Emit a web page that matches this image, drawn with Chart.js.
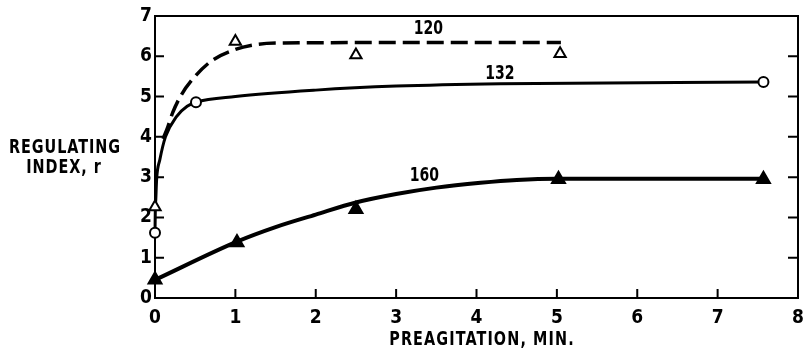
<!DOCTYPE html>
<html>
<head>
<meta charset="utf-8">
<script src="https://cdn.jsdelivr.net/npm/chart.js@4/dist/chart.umd.min.js"></script>
<style>
  html, body { margin: 0; padding: 0; background: #fff; }
  #wrap { width: 804px; height: 352px; }
</style>
</head>
<body>
<div id="wrap"><canvas id="c" width="804" height="352"></canvas></div>
<script>
// ---- data ----
const xTicks = [0, 1, 2, 3, 4, 5, 6, 7, 8];
const yTicks = [0, 1, 2, 3, 4, 5, 6, 7];

// measured points
const s120X = [0, 1, 2.5, 5.04];
const s120Y = [2.26, 6.37, 6.03, 6.06];
const s132X = [0, 0.51, 7.57];
const s132Y = [1.62, 4.86, 5.36];
const s160X = [0, 1.02, 2.5, 5.02, 7.57];
const s160Y = [0.45, 1.38, 2.2, 2.95, 2.95];

// hand-drawn fitted curves
const curve120X = [0.1, 0.16, 0.22, 0.33, 0.48, 0.7, 1.0, 1.25, 1.6, 3, 5.05];
const curve120Y = [3.95, 4.25, 4.6, 5.05, 5.46, 5.88, 6.17, 6.29, 6.33, 6.34, 6.34];
const curve132X = [0, 0.004, 0.01, 0.02, 0.06, 0.13, 0.27, 0.4, 0.51, 1, 2, 3, 4.3, 7.57];
const curve132Y = [1.62, 2.2, 2.45, 2.94, 3.43, 4.0, 4.51, 4.76, 4.86, 5.0, 5.16, 5.26, 5.32, 5.36];
const curve160X = [0, 1.02, 1.5, 2.0, 2.5, 3.0, 3.5, 4.05, 4.5, 5.0, 7.57];
const curve160Y = [0.45, 1.4, 1.76, 2.07, 2.37, 2.58, 2.74, 2.86, 2.93, 2.96, 2.96];

const seriesNames = ['120', '132', '160'];
const xTitle = 'PREAGITATION, MIN.';
const yTitleLines = ['REGULATING', 'INDEX, r'];

// ---- build ----
const pts = (xs, ys) => xs.map((x, i) => ({ x: x, y: ys[i] }));
const FONT = '"DejaVu Sans Condensed", "DejaVu Sans", sans-serif';

const curveBase = {
  type: 'line', pointRadius: 0, borderColor: '#000', fill: false,
  cubicInterpolationMode: 'monotone', clip: false, order: 2
};
const markBase = {
  type: 'line', showLine: false, borderColor: '#000', clip: false, order: 1,
  pointBorderWidth: 2, pointHoverRadius: 0
};

function squeezedText(ctx, text, cx, cy, sx, spacing) {
  ctx.save();
  ctx.translate(cx, cy);
  ctx.scale(sx, 1);
  ctx.letterSpacing = spacing + 'px';
  ctx.fillText(text, 0, 0);
  ctx.restore();
}

const deco = {
  id: 'deco',
  beforeDatasetsDraw(chart) {
    const { ctx, chartArea: a, scales } = chart;
    ctx.save();
    ctx.strokeStyle = '#000';
    ctx.lineWidth = 2;
    ctx.strokeRect(a.left, a.top, a.right - a.left, a.bottom - a.top);
    ctx.beginPath();
    xTicks.forEach(v => {
      const px = scales.x.getPixelForValue(v);
      if (v > 0 && v < 8) { ctx.moveTo(px, a.bottom); ctx.lineTo(px, a.bottom - 9); }
    });
    yTicks.forEach(v => {
      const py = scales.y.getPixelForValue(v);
      if (v > 0 && v < 7) {
        ctx.moveTo(a.left, py); ctx.lineTo(a.left + 9, py);
        ctx.moveTo(a.right, py); ctx.lineTo(a.right - 10, py);
      }
    });
    ctx.stroke();
    ctx.restore();
  },
  afterDraw(chart) {
    const { ctx, scales } = chart;
    ctx.save();
    ctx.fillStyle = '#000';
    ctx.textAlign = 'center';
    ctx.textBaseline = 'middle';
    ctx.font = 'bold 19px ' + FONT;
    const anchors = [[3.40, 6.67], [4.29, 5.55], [3.35, 3.02]];
    seriesNames.forEach((n, i) => {
      squeezedText(ctx, n, scales.x.getPixelForValue(anchors[i][0]), scales.y.getPixelForValue(anchors[i][1]), 0.82, 0);
    });
    ctx.font = 'bold 20px ' + FONT;
    squeezedText(ctx, yTitleLines[0], 65, 148, 0.8, 1.2);
    squeezedText(ctx, yTitleLines[1], 64, 168, 0.8, 1.2);
    squeezedText(ctx, xTitle, 482, 340, 0.8, 1.4);
    ctx.restore();
  }
};

new Chart(document.getElementById('c'), {
  type: 'line',
  data: {
    datasets: [
      Object.assign({}, curveBase, { label: '120 curve', data: pts(curve120X, curve120Y), borderWidth: 3.5, borderDash: [17, 7] }),
      Object.assign({}, curveBase, { label: '132 curve', data: pts(curve132X, curve132Y), borderWidth: 3 }),
      Object.assign({}, curveBase, { label: '160 curve', data: pts(curve160X, curve160Y), borderWidth: 4 }),
      Object.assign({}, markBase, { label: '120', data: pts(s120X, s120Y), pointStyle: 'triangle', pointRadius: 6.5, pointBackgroundColor: '#fff' }),
      Object.assign({}, markBase, { label: '132', data: pts(s132X, s132Y), pointStyle: 'circle', pointRadius: 5, pointBackgroundColor: '#fff' }),
      Object.assign({}, markBase, { label: '160', data: pts(s160X, s160Y), pointStyle: 'triangle', pointRadius: 7.5, pointBackgroundColor: '#000' })
    ]
  },
  options: {
    responsive: false,
    devicePixelRatio: 1,
    animation: false,
    events: [],
    layout: { autoPadding: false, padding: { top: 16, right: 6, left: 0, bottom: 0 } },
    plugins: { legend: { display: false }, tooltip: { enabled: false }, title: { display: false } },
    scales: {
      x: {
        type: 'linear', min: 0, max: 8,
        grid: { display: false, drawTicks: false },
        border: { display: false },
        ticks: { stepSize: 1, color: '#000', padding: 9, font: { family: FONT, size: 19, weight: 'bold' } },
        afterFit: s => { s.height = 54; s.paddingLeft = 0; s.paddingRight = 0; }
      },
      y: {
        type: 'linear', min: 0, max: 7,
        grid: { display: false, drawTicks: false },
        border: { display: false },
        ticks: { stepSize: 1, color: '#000', padding: 3, font: { family: FONT, size: 19, weight: 'bold' } },
        afterFit: s => { s.width = 155; s.paddingTop = 0; s.paddingBottom = 0; }
      }
    }
  },
  plugins: [deco]
});
</script>
</body>
</html>
